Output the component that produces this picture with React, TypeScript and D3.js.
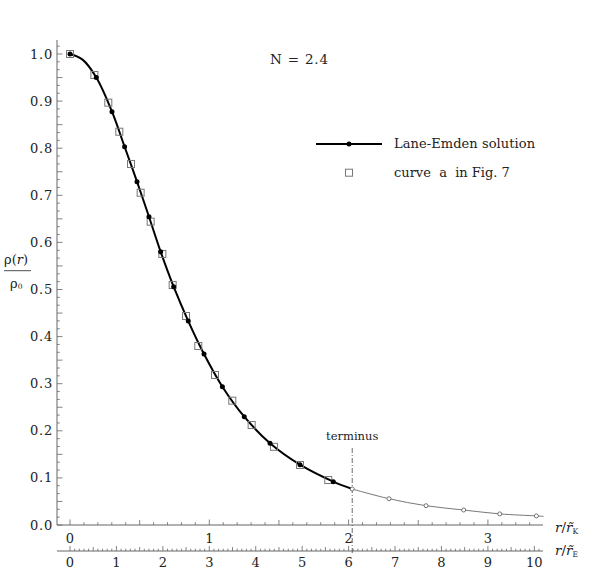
import React from "react";
import * as d3 from "d3";

// Lane-Emden solution (filled dots), r / r~_K vs rho/rho0
const solutionR = [0, 0.189, 0.3015, 0.392, 0.481, 0.567, 0.651, 0.744, 0.849, 0.962, 1.094, 1.251, 1.436, 1.651, 1.89];
const solutionRho = [1.0, 0.95, 0.8775, 0.803, 0.729, 0.6545, 0.58, 0.506, 0.433, 0.363, 0.2937, 0.23, 0.1735, 0.128, 0.092];
// extra smooth-start sample of the solution line near the centre
const solutionLineExtraR = [0.09];
const solutionLineExtraRho = [0.988];
// terminus
const terminusR = 2.026;
const terminusRho = 0.0764;
// continuation beyond terminus (open circles)
const tailR = [2.026, 2.29, 2.556, 2.826, 3.085, 3.348];
const tailRho = [0.0764, 0.0558, 0.041, 0.0318, 0.0236, 0.0193];
const tailEndR = 3.4;
const tailEndRho = 0.0184;
// curve a in Fig. 7 (open squares)
const curveAR = [0, 0.175, 0.275, 0.354, 0.438, 0.507, 0.579, 0.663, 0.737, 0.833, 0.921, 1.041, 1.165, 1.304, 1.464, 1.651, 1.854];
const curveARho = [1.0, 0.9554, 0.8967, 0.835, 0.7665, 0.7055, 0.644, 0.5754, 0.5096, 0.4437, 0.38, 0.3185, 0.264, 0.2123, 0.166, 0.1274, 0.0955];
// tick labels
const rhoTickLabels = ["0.0", "0.1", "0.2", "0.3", "0.4", "0.5", "0.6", "0.7", "0.8", "0.9", "1.0"];
const kTickLabels = ["0", "1", "2", "3"];
const eTickLabels = ["0", "1", "2", "3", "4", "5", "6", "7", "8", "9", "10"];
const eToK = 1 / 3;

const FONT = "'DejaVu Serif', serif";

export default function App() {
  const W = 598, H = 580;
  const x = d3.scaleLinear().domain([0, 1]).range([70, 209.3]);
  const y = d3.scaleLinear().domain([0, 1]).range([525, 54]);
  const axisLeft = 57;
  const axisRight = 543;
  const axisTop = 40;
  const yAxis0 = y(0);
  const yAxisE = 551;

  const solPts = solutionR.map((r, i) => [r, solutionRho[i]] as [number, number]);
  const linePts = [...solPts, ...solutionLineExtraR.map((r, i) => [r, solutionLineExtraRho[i]] as [number, number]), [terminusR, terminusRho] as [number, number]].sort((a, b) => a[0] - b[0]);
  const tailPts = [...tailR.map((r, i) => [r, tailRho[i]] as [number, number]), [tailEndR, tailEndRho] as [number, number]];
  const line = d3.line<[number, number]>().x(d => x(d[0])).y(d => y(d[1])).curve(d3.curveCatmullRom.alpha(0.5));

  // y ticks: 6 subdivisions per 0.1
  const yTicks = d3.range(0, 62).map(i => ({ v: i / 60, len: i % 3 === 0 ? 5.5 : 2.8 }));
  const kTicks = d3.range(0, 34).map(i => ({ v: i / 10, len: i % 10 === 0 ? 5.5 : i % 5 === 0 ? 5 : 2.8 }));
  const eTicks = d3.range(0, 102).map(i => ({ v: i / 10, len: i % 10 === 0 ? 5 : i % 5 === 0 ? 4 : 2.3 }));

  const axisColor = "#666";
  const textColor = "#222";

  return (
    <svg width={W} height={H} style={{ position: "absolute", left: 0, top: 0, background: "#fff" }} fontFamily={FONT}>
      {/* axes */}
      <line x1={axisLeft} x2={axisLeft} y1={axisTop} y2={yAxis0} stroke={axisColor} strokeWidth={1} />
      <line x1={axisLeft} x2={axisRight} y1={yAxis0} y2={yAxis0} stroke={axisColor} strokeWidth={1} />
      <line x1={axisLeft} x2={axisRight} y1={yAxisE} y2={yAxisE} stroke={axisColor} strokeWidth={1} />
      {yTicks.map((t, i) => (
        <line key={"yt" + i} x1={axisLeft} x2={axisLeft + t.len} y1={y(t.v)} y2={y(t.v)} stroke={axisColor} strokeWidth={0.8} />
      ))}
      {kTicks.map((t, i) => (
        <line key={"kt" + i} x1={x(t.v)} x2={x(t.v)} y1={yAxis0} y2={yAxis0 - t.len} stroke={axisColor} strokeWidth={0.8} />
      ))}
      {eTicks.map((t, i) => (
        <line key={"et" + i} x1={x(t.v * eToK)} x2={x(t.v * eToK)} y1={yAxisE} y2={yAxisE - t.len} stroke={axisColor} strokeWidth={0.8} />
      ))}
      {rhoTickLabels.map((l, i) => (
        <text key={"yl" + i} x={53} y={y(i / 10) + 4.5} textAnchor="end" fontSize={13} letterSpacing={0.8} fill={textColor}>{l}</text>
      ))}
      {kTickLabels.map((l, i) => (
        <text key={"kl" + i} x={x(i)} y={543} textAnchor="middle" fontSize={13} fill={textColor}>{l}</text>
      ))}
      {eTickLabels.map((l, i) => (
        <text key={"el" + i} x={x(i * eToK)} y={567} textAnchor="middle" fontSize={13} fill={textColor}>{l}</text>
      ))}
      {/* axis unit labels */}
      <text x={555} y={532} fontSize={13.5} fill={textColor}>
        <tspan fontStyle="italic">r</tspan>
        <tspan>/</tspan>
        <tspan fontStyle="italic">{"r\u0303"}</tspan>
        <tspan fontSize={7.5} dy={2}>K</tspan>
      </text>
      <text x={555} y={555} fontSize={13.5} fill={textColor}>
        <tspan fontStyle="italic">r</tspan>
        <tspan>/</tspan>
        <tspan fontStyle="italic">{"r\u0303"}</tspan>
        <tspan fontSize={7.5} dy={2}>E</tspan>
      </text>
      {/* y label */}
      <text x={4} y={264} fontSize={13} fill={textColor}>
        <tspan>ρ(</tspan>
        <tspan fontStyle="italic">r</tspan>
        <tspan>)</tspan>
      </text>
      <line x1={4} x2={31} y1={270.7} y2={270.7} stroke={textColor} strokeWidth={0.8} />
      <text x={10} y={288} fontSize={13} fill={textColor}>
        <tspan>ρ</tspan>
        <tspan fontSize={7.5} dy={1}>0</tspan>
      </text>
      {/* terminus */}
      <line x1={x(terminusR)} x2={x(terminusR)} y1={448} y2={yAxisE + 2} stroke="#444" strokeWidth={0.8} strokeDasharray="5,2,1,2" />
      <text x={x(terminusR)} y={440} textAnchor="middle" fontSize={11.5} fill={textColor}>terminus</text>
      {/* tail */}
      <path d={line(tailPts) || ""} fill="none" stroke="#555" strokeWidth={0.8} />
      {/* thick solution line */}
      <path d={line(linePts) || ""} fill="none" stroke="#000" strokeWidth={2} />
      {/* curve a squares */}
      {curveAR.map((r, i) => (
        <rect key={"sq" + i} x={x(r) - 3.5} y={y(curveARho[i]) - 3.5} width={7} height={7} fill="none" stroke="#777" strokeWidth={1} />
      ))}
      {/* solution dots */}
      {solPts.map((p, i) => (
        <circle key={"sd" + i} cx={x(p[0])} cy={y(p[1])} r={2.5} fill="#000" />
      ))}
      {tailR.map((r, i) => (
        <circle key={"tc" + i} cx={x(r)} cy={y(tailRho[i])} r={2} fill="#fff" stroke="#555" strokeWidth={0.8} />
      ))}
      {/* N label */}
      <text x={270} y={64} fontSize={13.5} fill={textColor} textLength={58} lengthAdjust="spacing" style={{ whiteSpace: "pre" }}>N = 2.4</text>
      {/* legend */}
      <line x1={316} x2={382} y1={144} y2={144} stroke="#000" strokeWidth={2} />
      <circle cx={349} cy={144} r={2.5} fill="#000" />
      <text x={394} y={148} fontSize={13} fill={textColor} textLength={141} lengthAdjust="spacing">Lane-Emden solution</text>
      <rect x={349 - 3.5} y={172.7 - 3.5} width={7} height={7} fill="none" stroke="#777" strokeWidth={1} />
      <text x={394} y={177} fontSize={13} fill={textColor} style={{ whiteSpace: "pre" }}>{"curve  a  in Fig. 7"}</text>
    </svg>
  );
}
